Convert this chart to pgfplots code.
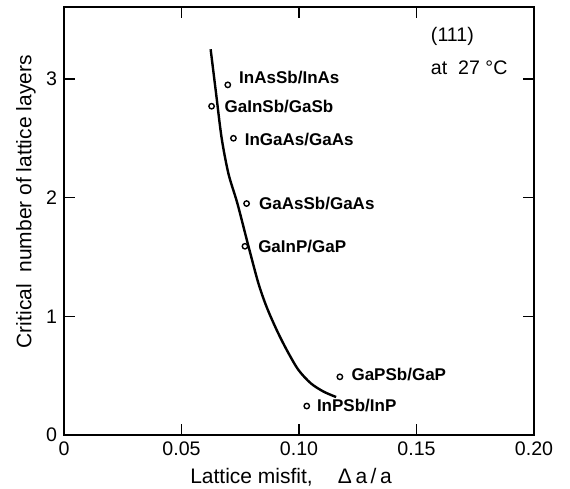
\documentclass[border=0pt]{standalone}
\usepackage{fontspec}
\setmainfont{Liberation Sans}
\usepackage{pgfplots}
\pgfplotsset{compat=1.18}
\begin{document}
\begin{tikzpicture}
\useasboundingbox (-32pt,-27pt) rectangle (253pt,217.5pt);
\begin{axis}[
  at={(0,0)}, anchor=south west,
  scale only axis, width=235pt, height=214pt,
  xmin=0, xmax=0.2, ymin=0, ymax=3.606,
  xtick={0,0.05,0.1,0.15,0.2},
  xticklabels={0,0.05,0.10,0.15,0.20},
  ytick={0,1,2,3},
  tick align=inside, major tick length=5.5pt,
  tick style={line width=0.6pt, black},
  axis line style={line width=0.9pt},
  /pgf/number format/assume math mode=true,
  ticklabel style={font=\fontsize{9.8}{11}\selectfont},
  label style={font=\fontsize{10.5}{12}\selectfont},
  xlabel={Lattice misfit,\hspace{1.2em}Δ\,a\,/\,a},
  ylabel={Critical\ \ number of lattice layers},
  xlabel style={at={(axis description cs:0.483,-0.098)}, anchor=center},
  ylabel style={at={(axis description cs:-0.081,0.545)}, anchor=center},
  clip=false,
]
\addplot[black, line width=1.2pt, smooth, tension=0.5] coordinates {
(0.0624,3.25) (0.0647,2.88) (0.0671,2.50) (0.0700,2.20) (0.0738,1.95)
(0.0785,1.59) (0.0827,1.28) (0.0862,1.08) (0.0905,0.885) (0.0948,0.716)
(0.0997,0.55) (0.1050,0.436) (0.1105,0.365) (0.1158,0.32)
};
\addplot[only marks, mark=o, mark size=1.35pt, mark options={line width=0.7pt, black}] coordinates {
(0.0697,2.95) (0.0628,2.77) (0.0721,2.50) (0.0777,1.95) (0.0770,1.59) (0.1174,0.49) (0.1033,0.244)
};
\begin{scope}[every node/.style={anchor=west, inner sep=0pt, font=\fontsize{8.5}{9}\selectfont\bfseries}]
\node at (axis cs:0.0744,3.01) {InAsSb/InAs};
\node at (axis cs:0.0682,2.77) {GaInSb/GaSb};
\node at (axis cs:0.0768,2.49) {InGaAs/GaAs};
\node at (axis cs:0.0829,1.95) {GaAsSb/GaAs};
\node at (axis cs:0.0825,1.59) {GaInP/GaP};
\node at (axis cs:0.1222,0.51) {GaPSb/GaP};
\node at (axis cs:0.1075,0.245) {InPSb/InP};
\end{scope}
\begin{scope}[every node/.style={anchor=west, inner sep=0pt, font=\fontsize{9.8}{11}\selectfont}]
\node at (axis cs:0.156,3.36) {(111)};
\node at (axis cs:0.156,3.09) {at\ \ 27 °C};
\end{scope}
\end{axis}
\end{tikzpicture}
\end{document}
